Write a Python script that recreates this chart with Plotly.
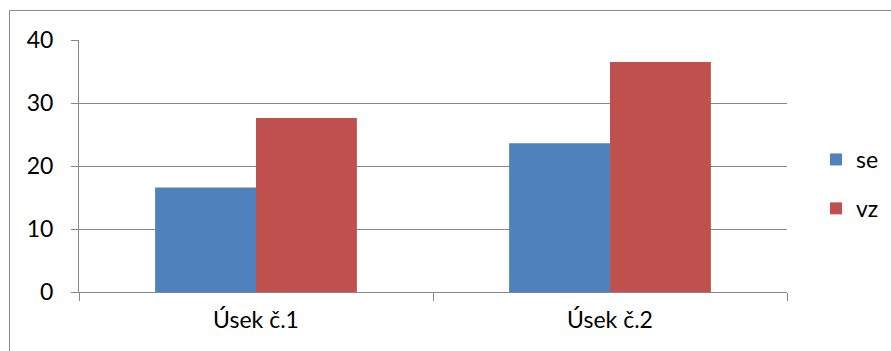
import plotly.graph_objects as go

categories = ["Úsek č.1", "Úsek č.2"]
se_values = [16.6, 23.6]
vz_values = [27.6, 36.5]
y_ticks = [0, 10, 20, 30, 40]

FONT = "Lato"
GRID = "#878787"
FS = 23

fig = go.Figure()
fig.add_trace(go.Bar(name="se", x=categories, y=se_values, marker_color="#4F81BD",
                     marker_line_width=0, legendgroup="se"))
fig.add_trace(go.Bar(name="vz", x=categories, y=vz_values, marker_color="#C0504D",
                     marker_line_width=0, legendgroup="vz"))

L, R, T, B = 79, 787, 40, 291.7
W, H = 891, 351
pw, ph = R - L, B - T

fig.update_layout(
    width=W, height=H,
    margin=dict(l=L, r=W - R, t=T, b=H - B, pad=0, autoexpand=False),
    paper_bgcolor="white", plot_bgcolor="white",
    barmode="group", bargap=0.43, bargroupgap=0,
    font=dict(family=FONT, size=FS, color="#000000"),
    showlegend=True,
    legend=dict(xref="container", yref="container",
                x=816 / W, y=1 - 184 / H, xanchor="left", yanchor="middle",
                tracegroupgap=16, font=dict(family=FONT, size=FS),
                bgcolor="rgba(0,0,0,0)", itemwidth=30),
    xaxis=dict(
        type="category", showgrid=False, showline=True, linecolor=GRID, linewidth=1,
        ticks="outside", tickson="boundaries", ticklen=8, tickcolor=GRID, tickwidth=1,
        tickfont=dict(family=FONT, size=FS), ticklabelstandoff=7,
    ),
    yaxis=dict(
        range=[0, 40], tickvals=y_ticks, showgrid=True, gridcolor=GRID, gridwidth=1,
        showline=True, linecolor=GRID, linewidth=1, zeroline=False,
        ticks="outside", ticklen=7, tickcolor=GRID, tickwidth=1,
        tickfont=dict(family=FONT, size=FS), ticklabelstandoff=13,
    ),
    shapes=[
        dict(type="rect", xref="paper", yref="paper",
             x0=(9.5 - L) / pw, x1=(W + 20 - L) / pw,
             y0=-(H + 20 - B) / ph, y1=1 + (T - 10.5) / ph,
             line=dict(color=GRID, width=1), fillcolor="rgba(0,0,0,0)", layer="below"),
    ],
)

fig.write_html("out.html")
